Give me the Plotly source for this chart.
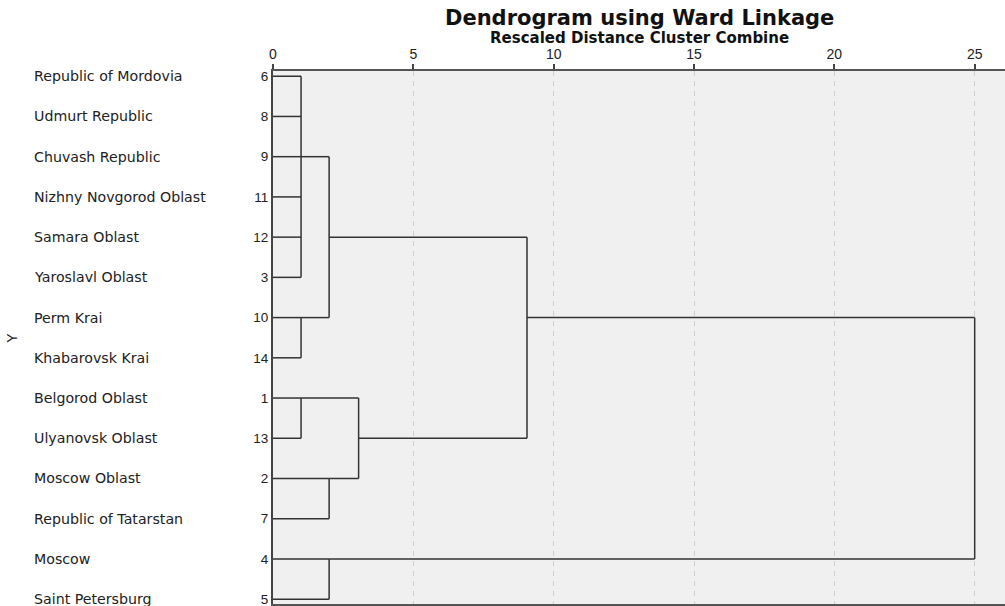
import plotly.graph_objects as go

# ---- data ----
region_names = [
    "Republic of Mordovia", "Udmurt Republic", "Chuvash Republic",
    "Nizhny Novgorod Oblast", "Samara Oblast", "Yaroslavl Oblast",
    "Perm Krai", "Khabarovsk Krai", "Belgorod Oblast", "Ulyanovsk Oblast",
    "Moscow Oblast", "Republic of Tatarstan", "Moscow", "Saint Petersburg",
]
case_numbers = [6, 8, 9, 11, 12, 3, 10, 14, 1, 13, 2, 7, 4, 5]

# merges: node ids 0..13 are leaves (in display order), merges get ids 14, 15, ...
merge_children = [
    [0, 1, 2, 3, 4, 5],  # 14
    [6, 7],              # 15
    [8, 9],              # 16
    [10, 11],            # 17
    [12, 13],            # 18
    [14, 15],            # 19
    [16, 17],            # 20
    [19, 20],            # 21
    [21, 18],            # 22
]
merge_distance = [1.0, 1.0, 1.0, 2.0, 2.0, 2.0, 3.05, 9.05, 25.0]

x_ticks = [0, 5, 10, 15, 20, 25]

# ---- build dendrogram segments ----
n = len(case_numbers)
node_row = {i: i for i in range(n)}
node_dist = {i: 0.0 for i in range(n)}
xs, ys = [], []
for k, (children, d) in enumerate(zip(merge_children, merge_distance)):
    nid = n + k
    rows = [node_row[c] for c in children]
    for c in children:
        xs += [node_dist[c], d, None]
        ys += [node_row[c], node_row[c], None]
    xs += [d, d, None]
    ys += [min(rows), max(rows), None]
    node_row[nid] = int(sum(rows) / len(rows))
    node_dist[nid] = d

fig = go.Figure()
fig.add_trace(go.Scatter(
    x=xs, y=ys, mode="lines",
    line=dict(color="#333333", width=1.5),
    hoverinfo="skip", showlegend=False, cliponaxis=False,
))

arial = "Arial, Liberation Sans, sans-serif"
wide = "DejaVu Sans, Verdana, sans-serif"

plot_left, plot_top, plot_w, plot_h = 273, 71, 732, 533


def px_x(p):
    return (p - plot_left) / plot_w


def px_y(p):
    return (plot_top + plot_h - p) / plot_h


for i, name in enumerate(region_names):
    fig.add_annotation(
        x=px_x(32), xref="x domain", y=i, yref="y", text=name, showarrow=False,
        xanchor="left", yanchor="middle",
        font=dict(family=wide, size=14.2, color="#222222"),
    )

fig.add_annotation(
    x=px_x(12), xref="x domain", y=6.5, yref="y", text="Y",
    textangle=-90, showarrow=False, xanchor="center", yanchor="middle",
    font=dict(family=arial, size=14, color="#222222"),
)

fig.add_annotation(
    x=0.5, xref="x domain", y=px_y(18), yref="paper",
    text="<b>Dendrogram using Ward Linkage</b>", showarrow=False,
    xanchor="center", yanchor="middle",
    font=dict(family=wide, size=21, color="#111111"),
)
fig.add_annotation(
    x=0.5, xref="x domain", y=px_y(38), yref="paper",
    text="<b>Rescaled Distance Cluster Combine</b>", showarrow=False,
    xanchor="center", yanchor="middle",
    font=dict(family=wide, size=15, color="#111111"),
)

fig.update_layout(
    width=1005, height=606,
    margin=dict(l=plot_left, r=0, t=plot_top, b=606 - plot_top - plot_h),
    paper_bgcolor="white", plot_bgcolor="#f0f0f0",
    showlegend=False,
    xaxis=dict(
        side="top", range=[0, 26.08], tickvals=x_ticks,
        ticktext=[str(t) for t in x_ticks],
        showgrid=True, gridcolor="#cfcfcf", griddash="5px,5px", gridwidth=1.2,
        zeroline=False, showline=True, linecolor="#555555", linewidth=1.5,
        mirror=True, ticks="outside", ticklen=5, tickwidth=1.5,
        tickcolor="#444444",
        tickfont=dict(family=arial, size=14, color="#222222"),
    ),
    yaxis=dict(
        range=[13.12, -0.13], tickvals=list(range(n)),
        ticktext=[str(c) for c in case_numbers],
        showgrid=False, zeroline=False, showline=True,
        linecolor="#444444", linewidth=2, ticks="",
        ticklabeloverflow="allow",
        tickfont=dict(family=arial, size=13.5, color="#222222"),
    ),
)

fig.write_html("out.html", config={"displayModeBar": False},
               post_script="document.body.style.margin='0';")
